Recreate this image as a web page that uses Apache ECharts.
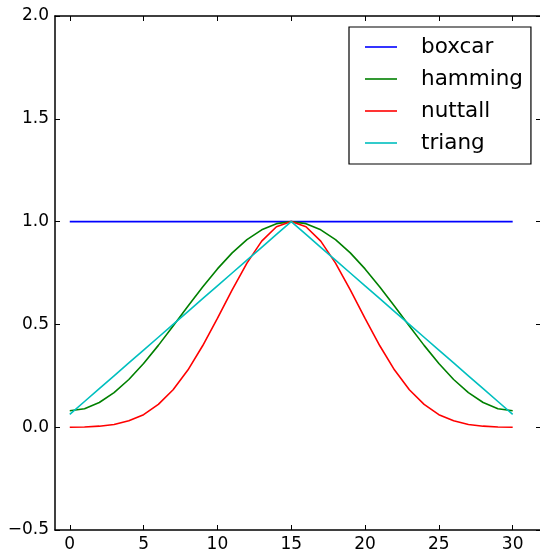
<!DOCTYPE html>
<html>
<head>
<meta charset="utf-8">
<script src="https://cdn.jsdelivr.net/npm/echarts@6/dist/echarts.min.js"></script>
<style>
  html, body { margin: 0; padding: 0; background: #fff; }
  #chart { width: 540px; height: 556px; }
</style>
</head>
<body>
<div id="chart"></div>
<script>
// Sample index (31-point windows)
const sampleIndex = [0, 1, 2, 3, 4, 5, 6, 7, 8, 9, 10, 11, 12, 13, 14, 15,
  16, 17, 18, 19, 20, 21, 22, 23, 24, 25, 26, 27, 28, 29, 30];

const boxcar = [1, 1, 1, 1, 1, 1, 1, 1, 1, 1, 1, 1, 1, 1, 1, 1,
  1, 1, 1, 1, 1, 1, 1, 1, 1, 1, 1, 1, 1, 1, 1];

const hamming = [0.08, 0.090, 0.120, 0.168, 0.232, 0.31, 0.398, 0.492, 0.588, 0.682,
  0.77, 0.848, 0.912, 0.960, 0.990, 1.0, 0.990, 0.960, 0.912, 0.848, 0.77,
  0.682, 0.588, 0.492, 0.398, 0.31, 0.232, 0.168, 0.120, 0.090, 0.08];

const nuttall = [0.000, 0.001, 0.005, 0.013, 0.031, 0.061, 0.111, 0.182, 0.278, 0.396,
  0.529, 0.668, 0.798, 0.905, 0.975, 1.0, 0.975, 0.905, 0.798, 0.668, 0.529,
  0.396, 0.278, 0.182, 0.111, 0.061, 0.031, 0.013, 0.005, 0.001, 0.000];

const triang = [0.0625, 0.125, 0.1875, 0.25, 0.3125, 0.375, 0.4375, 0.5, 0.5625, 0.625,
  0.6875, 0.75, 0.8125, 0.875, 0.9375, 1.0, 0.9375, 0.875, 0.8125, 0.75, 0.6875,
  0.625, 0.5625, 0.5, 0.4375, 0.375, 0.3125, 0.25, 0.1875, 0.125, 0.0625];

const xTicks = [0, 5, 10, 15, 20, 25, 30];

const seriesNames = ['boxcar', 'hamming', 'nuttall', 'triang'];
const seriesColors = ['#0000ff', '#008000', '#ff0000', '#00bfbf'];
const seriesValues = [boxcar, hamming, nuttall, triang];

const FONT = 'DejaVu Sans';

// The visible x window runs from -1 to just short of 32 (right frame falls off the canvas)
const X_MIN = -1;
const X_MAX = 31.85;

const fmtY = v => (v < 0 ? '\u2212' : '') + Math.abs(v).toFixed(1);

const tickLine = { lineStyle: { color: '#000', width: 1 } };

const chart = echarts.init(document.getElementById('chart'), null, { renderer: 'canvas' });

chart.setOption({
  animation: false,
  backgroundColor: '#fff',
  grid: { left: 55, top: 16, right: 0, bottom: 26, containLabel: false },
  legend: {
    data: seriesNames,
    orient: 'vertical',
    left: 349,
    top: 27,
    padding: [9, 8, 10, 16],
    itemGap: 10,
    itemWidth: 32,
    itemHeight: 1.6,
    icon: 'rect',
    backgroundColor: '#fff',
    borderColor: '#000',
    borderWidth: 1.2,
    borderRadius: 0,
    textStyle: { fontFamily: FONT, fontSize: 21.5, color: '#000', lineHeight: 22, padding: [0, 0, 0, 19] }
  },
  xAxis: [
    {
      type: 'value', min: X_MIN, max: X_MAX, position: 'bottom',
      axisLine: { onZero: false, lineStyle: { color: '#000', width: 1.5 } },
      axisTick: Object.assign({ inside: true, length: 5, customValues: xTicks }, tickLine),
      axisLabel: { customValues: xTicks, fontFamily: FONT, fontSize: 17, color: '#000', margin: 6 },
      splitLine: { show: false }
    },
    {
      type: 'value', min: X_MIN, max: X_MAX, position: 'top',
      axisLine: { onZero: false, lineStyle: { color: '#000', width: 1.5 } },
      axisTick: Object.assign({ inside: true, length: 5, customValues: xTicks }, tickLine),
      axisLabel: { show: false },
      splitLine: { show: false }
    }
  ],
  yAxis: [
    {
      type: 'value', min: -0.5, max: 2.0, interval: 0.5, position: 'left',
      axisLine: { show: true, onZero: false, lineStyle: { color: '#000', width: 1.5 } },
      axisTick: Object.assign({ show: true, inside: true, length: 5 }, tickLine),
      axisLabel: { formatter: fmtY, fontFamily: FONT, fontSize: 17, color: '#000', margin: 6 },
      splitLine: { show: false }
    },
    {
      type: 'value', min: -0.5, max: 2.0, interval: 0.5, position: 'right',
      axisLine: { show: false, onZero: false },
      axisTick: Object.assign({ show: true, inside: true, length: 4 }, tickLine),
      axisLabel: { show: false },
      splitLine: { show: false }
    }
  ],
  series: seriesNames.map((name, i) => ({
    name: name,
    type: 'line',
    xAxisIndex: 0,
    yAxisIndex: 0,
    data: sampleIndex.map((x, j) => [x, seriesValues[i][j]]),
    symbol: 'none',
    showSymbol: false,
    smooth: false,
    color: seriesColors[i],
    lineStyle: { color: seriesColors[i], width: 1.6 },
    z: 2 + i
  }))
});
</script>
</body>
</html>
